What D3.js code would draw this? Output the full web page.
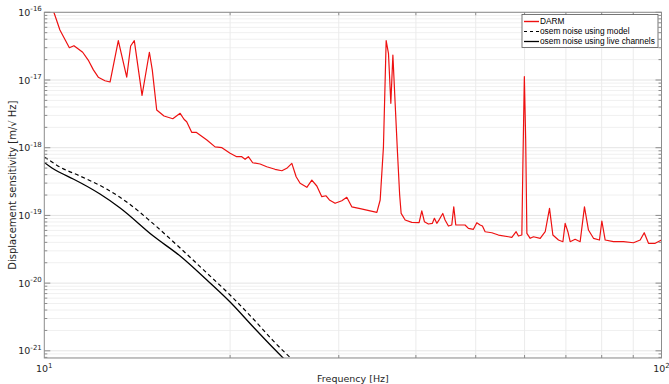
<!DOCTYPE html>
<html><head><meta charset="utf-8">
<script src="https://cdn.jsdelivr.net/npm/d3@7"></script>
<style>
body{margin:0;background:#fff}
svg{display:block}
text{font-family:"DejaVu Sans",sans-serif;fill:#262626}
</style>
</head><body>
<svg id="c" width="669" height="384"></svg>
<script>
// ---- data (frequency [Hz], amplitude [m/sqrt(Hz)]) ----
const darm = [
[10.0,2.2e-16],[10.37,9.86e-17],[10.60,5.48e-17],[10.98,3.00e-17],[11.17,3.21e-17],[11.54,2.57e-17],
[11.78,1.97e-17],[12.01,1.41e-17],[12.23,1.10e-17],[12.54,9.76e-18],[12.78,9.34e-18],[13.18,3.81e-17],
[13.60,1.10e-17],[13.80,3.18e-17],[13.99,3.81e-17],[14.40,5.94e-18],[14.80,2.57e-17],[14.96,1.41e-17],
[15.21,3.60e-18],[15.63,2.94e-18],[16.15,2.68e-18],[16.60,3.22e-18],[16.84,2.63e-18],[17.01,2.42e-18],
[17.33,1.69e-18],[17.62,1.69e-18],[18.34,1.30e-18],[18.91,1.03e-18],[19.40,1.00e-18],[20.00,8.27e-19],
[20.50,7.36e-19],[20.89,7.36e-19],[21.15,6.74e-19],[21.41,7.36e-19],[21.76,6.00e-19],[22.37,5.74e-19],
[22.93,5.24e-19],[23.65,4.80e-19],[24.26,4.57e-19],[24.71,4.96e-19],[25.18,5.88e-19],[25.59,3.73e-19],
[25.97,2.98e-19],[26.63,2.60e-19],[27.13,3.33e-19],[27.64,2.72e-19],[28.16,1.89e-19],[28.61,1.95e-19],
[28.97,1.69e-19],[29.59,1.51e-19],[30.34,1.65e-19],[30.91,1.85e-19],[31.49,1.34e-19],[32.49,1.26e-19],
[33.72,1.17e-19],[34.58,1.11e-19],[35.01,1.69e-19],[35.44,1.03e-18],[35.80,3.81e-17],[36.11,2.48e-17],
[36.43,4.53e-18],[36.71,2.34e-17],[37.02,4.53e-18],[37.34,8.73e-19],[37.65,2.0e-19],[37.86,1.07e-19],
[38.43,8.55e-20],[39.39,7.91e-20],[40.48,7.80e-20],[40.89,1.17e-19],[41.29,8.07e-20],[41.91,7.46e-20],
[42.54,7.64e-20],[42.86,9.06e-20],[43.25,7.64e-20],[43.67,8.76e-20],[44.22,1.07e-19],[44.60,8.55e-20],
[45.16,6.97e-20],[45.73,7.22e-20],[46.07,1.34e-19],[46.42,7.22e-20],[47.17,7.22e-20],[48.05,7.22e-20],
[48.66,6.45e-20],[49.57,6.23e-20],[50.21,7.80e-20],[50.83,7.22e-20],[51.27,6.97e-20],[51.79,5.74e-20],
[53.10,5.55e-20],[54.43,5.13e-20],[56.49,4.84e-20],[57.21,4.75e-20],[58.14,5.74e-20],[58.64,4.96e-20],
[59.39,5.13e-20],[59.64,6.58e-19],[59.95,1.12e-17],[60.25,1.30e-18],[60.52,5.44e-20],[61.27,4.59e-20],
[62.03,4.84e-20],[63.60,4.59e-20],[64.80,5.74e-20],[65.85,1.27e-19],[66.68,5.13e-20],[68.09,4.33e-20],
[69.22,4.09e-20],[69.81,7.64e-20],[70.52,5.74e-20],[71.12,4.09e-20],[72.46,4.44e-20],[73.82,4.09e-20],
[75.02,1.34e-19],[76.15,6.08e-20],[77.59,4.59e-20],[79.34,4.33e-20],[80.05,8.27e-20],[81.05,4.33e-20],
[83.60,4.09e-20],[86.78,4.09e-20],[90.08,3.95e-20],[92.36,4.33e-20],[93.76,5.55e-20],[95.26,3.87e-20],
[97.68,3.87e-20],[100.0,4.33e-20]
];
const osemModel = [
[10.0,7.29e-19],[10.29,6.15e-19],[10.60,5.19e-19],[11.42,3.82e-19],[12.62,2.45e-19],[13.60,1.58e-19],
[14.84,8.27e-20],[16.60,3.30e-20],[18.34,1.41e-20],[20.00,6.67e-21],[21.81,2.95e-21],[23.50,1.40e-21],
[26.46,5.0e-22]
];
const osemLive = [
[10.0,6.04e-19],[10.29,5.01e-19],[10.60,4.30e-19],[11.14,3.45e-19],[12.31,2.07e-19],[13.27,1.29e-19],
[15.02,4.96e-20],[16.60,2.51e-20],[18.34,1.11e-20],[20.00,5.26e-21],[21.81,2.25e-21],[23.50,1.10e-21],
[25.49,5.21e-22]
];
const seriesNames = ["DARM","osem noise using model","osem noise using live channels"];
const xTickExps = [1,2];
const yTickExps = [-21,-20,-19,-18,-17,-16];
const xLabel = "Frequency [Hz]";
const yLabel = "Displacement sensitivity [m/\u221A Hz]";

// ---- layout ----
const L=44.3, R=661.5, T=12.3, B=358;
const svg = d3.select("#c");
const x = d3.scaleLog().domain([10,100]).range([L,R]);
const y = d3.scaleLog().domain([Math.pow(10,-21.106),1e-16]).range([B,T]);

const yMinor=[], yMajor=yTickExps.map(e=>Math.pow(10,e));
for(let e=-22;e<=-17;e++) for(let m=2;m<=9;m++){const v=m*Math.pow(10,e); if(v>=y.domain()[0]&&v<=1e-16) yMinor.push(v);}
const xMinor=[]; for(let m=2;m<=9;m++) xMinor.push(m*10);

// grid
const g = svg.append("g");
g.selectAll(".ymg").data(yMinor).join("line").attr("x1",L).attr("x2",R)
 .attr("y1",d=>y(d)).attr("y2",d=>y(d)).attr("stroke","#f0f0f0").attr("stroke-width",1);
g.selectAll(".xmg").data(xMinor).join("line").attr("y1",T).attr("y2",B)
 .attr("x1",d=>x(d)).attr("x2",d=>x(d)).attr("stroke","#ebebeb").attr("stroke-width",1);
g.selectAll(".yMg").data(yMajor).join("line").attr("x1",L).attr("x2",R)
 .attr("y1",d=>y(d)).attr("y2",d=>y(d)).attr("stroke","#e4e4e4").attr("stroke-width",1);

// lines
svg.append("clipPath").attr("id","clip").append("rect").attr("x",L).attr("y",T).attr("width",R-L).attr("height",B-T);
const line = d3.line().x(d=>x(d[0])).y(d=>y(d[1]));
const smooth = d3.line().curve(d3.curveMonotoneX).x(d=>x(d[0])).y(d=>y(d[1]));
const pl = svg.append("g").attr("clip-path","url(#clip)");
pl.append("path").datum(osemModel).attr("d",smooth).attr("fill","none").attr("stroke","#000").attr("stroke-width",1.2).attr("stroke-dasharray","4,3");
pl.append("path").datum(osemLive).attr("d",smooth).attr("fill","none").attr("stroke","#000").attr("stroke-width",1.3);
pl.append("path").datum(darm).attr("d",line).attr("fill","none").attr("stroke","#ee1111").attr("stroke-width",1.2).attr("stroke-linejoin","round");

// axes box and ticks
const ax = svg.append("g");
const axColor="#8c8c8c";
ax.selectAll(".ytl").data(yMinor.concat(yMajor)).join("line")
 .attr("x1",L).attr("x2",d=>L+(yMajor.includes(d)?6:3)).attr("y1",d=>y(d)).attr("y2",d=>y(d)).attr("stroke",axColor);
ax.selectAll(".ytr").data(yMinor.concat(yMajor)).join("line")
 .attr("x1",R).attr("x2",d=>R-(yMajor.includes(d)?6:3)).attr("y1",d=>y(d)).attr("y2",d=>y(d)).attr("stroke",axColor);
ax.selectAll(".xtb").data(xMinor).join("line")
 .attr("y1",B).attr("y2",B-3).attr("x1",d=>x(d)).attr("x2",d=>x(d)).attr("stroke",axColor);
ax.selectAll(".xtt").data(xMinor).join("line")
 .attr("y1",T).attr("y2",T+3).attr("x1",d=>x(d)).attr("x2",d=>x(d)).attr("stroke",axColor);
ax.append("rect").attr("x",L).attr("y",T).attr("width",R-L).attr("height",B-T).attr("fill","none").attr("stroke",axColor).attr("stroke-width",1);

// tick labels
const yl = svg.append("g");
yTickExps.forEach(e=>{
  const t = yl.append("text").attr("x",L-2.5).attr("y",y(Math.pow(10,e))+3.5).attr("text-anchor","end").style("font-size","9.5px");
  t.append("tspan").text("10");
  t.append("tspan").attr("dy",-4.5).style("font-size","7px").text("-"+Math.abs(e));
});
xTickExps.forEach(e=>{
  const t = yl.append("text").attr("x",x(Math.pow(10,e))).attr("y",372).attr("text-anchor","middle").style("font-size","9.5px");
  t.append("tspan").text("10");
  t.append("tspan").attr("dy",-4.5).style("font-size","7px").text(String(e));
});
svg.append("text").attr("x",(L+R)/2).attr("y",381.5).attr("text-anchor","middle").style("font-size","9.5px").text(xLabel);
svg.append("text").attr("transform",`translate(16,${(T+B)/2}) rotate(-90)`).attr("text-anchor","middle").style("font-size","10px").text(yLabel);

// legend
const lg = svg.append("g").attr("transform","translate(522,14.5)");
lg.append("rect").attr("width",136).attr("height",33).attr("fill","#fff").attr("stroke","#555").attr("stroke-width",0.8);
const styles=[{c:"#ee1111",d:null,w:1.4},{c:"#000",d:"3,3",w:1.2},{c:"#000",d:null,w:1.3}];
seriesNames.forEach((n,i)=>{
  const yy = 7+i*10;
  const ln = lg.append("line").attr("x1",2).attr("x2",17).attr("y1",yy).attr("y2",yy).attr("stroke",styles[i].c).attr("stroke-width",styles[i].w);
  if(styles[i].d) ln.attr("stroke-dasharray",styles[i].d);
  lg.append("text").attr("x",18).attr("y",yy+2.9).style("font-family","'Liberation Sans',Arial,sans-serif").style("font-size","8.3px").style("fill","#000").text(n);
});
</script>
</body></html>
